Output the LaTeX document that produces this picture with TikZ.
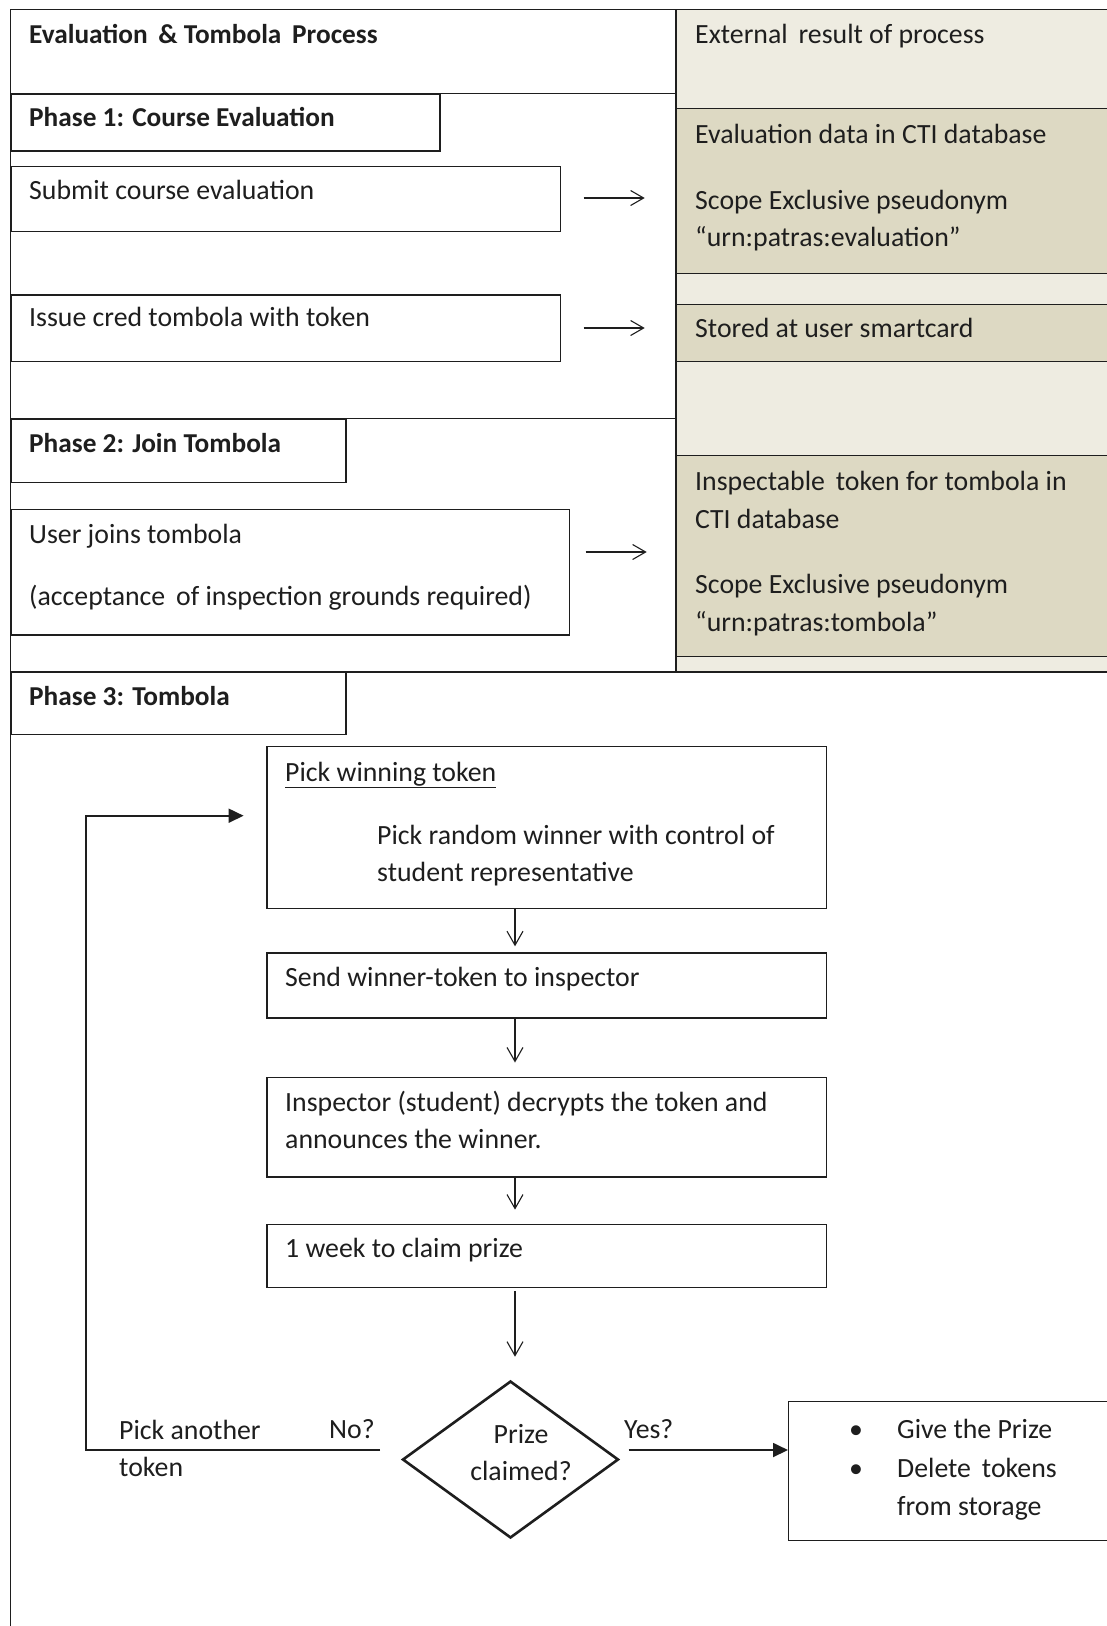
\documentclass[tikz,border=0pt]{standalone}
\usepackage{fontspec}
\setmainfont{Carlito}
\usetikzlibrary{arrows.meta,shapes.geometric}
\definecolor{lightbg}{HTML}{EEECE1}
\definecolor{darkbg}{HTML}{DDD9C3}
\definecolor{ink}{HTML}{1E1E1E}
\begin{document}
\begin{tikzpicture}[x=1pt,y=-1pt,
  every node/.style={font=\fontsize{27.8}{33}\selectfont, text=ink},
  frameline/.style={draw=ink, line width=1.3pt},
  box/.style={draw=ink, line width=1.3pt, rectangle, anchor=north west, inner sep=0pt},
  resbox/.style={box, fill=darkbg},
  txt/.style={anchor=base west, inner sep=0pt},
  btxt/.style={txt, font=\fontsize{27.3}{33}\selectfont\bfseries},
  thinarrow/.style={draw=ink, line width=1.1pt, -{Straight Barb[length=13pt,width=15pt,line width=1.1pt]}},
  flowarrow/.style={draw=ink, line width=1.1pt, -{Straight Barb[length=14pt,width=16pt,line width=1.1pt]}},
  backarrow/.style={draw=ink, line width=1.8pt, -{Triangle[length=15pt,width=14pt]}},
  decision/.style={diamond, draw=ink, line width=2.6pt, inner sep=0pt, minimum width=216pt, minimum height=157pt}
]
\useasboundingbox (0,0) rectangle (1107,1626);
\fill[white] (0,0) rectangle (1107,1626);

% right column background
\fill[lightbg] (676,9.3) rectangle (1107,672);

% result boxes
\node[resbox, minimum width=450pt, minimum height=165pt] (res1) at (676,108) {};
\node[resbox, minimum width=450pt, minimum height=57pt] (res2) at (676,304) {};
\node[resbox, minimum width=450pt, minimum height=201pt] (res3) at (676,455) {};

% frame lines
\draw[frameline] (10.4,9.3) -- (1120,9.3);
\draw[frameline] (10.4,9.3) -- (10.4,1630);
\draw[frameline] (676,9.3) -- (676,672);
\draw[frameline] (10.4,93.3) -- (676,93.3);
\draw[frameline] (10.4,418.7) -- (676,418.7);
\draw[frameline] (10.4,672) -- (1120,672);

% left boxes
\node[box, minimum width=429pt, minimum height=57pt] (ph1) at (10.4,93.3) {};
\node[box, minimum width=549.3pt, minimum height=65.3pt] (submit) at (10.4,165.8) {};
\node[box, minimum width=549.3pt, minimum height=66.3pt] (issue) at (10.4,294.4) {};
\node[box, minimum width=334.8pt, minimum height=63.3pt] (ph2) at (10.4,418.7) {};
\node[box, minimum width=558.6pt, minimum height=125.4pt] (join) at (10.4,508.9) {};
\node[box, minimum width=334.8pt, minimum height=62pt] (ph3) at (10.4,672) {};

% texts upper section
\node[btxt] (ttitle) at (29,43.7) {Evaluation \,\& Tombola \,Process};
\node[txt] (text) at (695,43.5) {External \,result of process};
\node[btxt] (tph1) at (29,126.7) {Phase 1: Course Evaluation};
\node[txt] (tr1a) at (695,143.5) {Evaluation data in CTI database};
\node[txt] (tsub) at (29,199.2) {Submit course evaluation};
\node[txt] (tr1b) at (695,209.5) {Scope Exclusive pseudonym};
\node[txt] (tr1c) at (695,246.5) {“urn:patras:evaluation”};
\node[txt] (tiss) at (29,326.7) {Issue cred tombola with token};
\node[txt] (tr2) at (695,337.5) {Stored at user smartcard};
\node[btxt] (tph2) at (29,452.1) {Phase 2: Join Tombola};
\node[txt] (tr3a) at (695,490.5) {Inspectable \,token for tombola in};
\node[txt] (tr3b) at (695,528.5) {CTI database};
\node[txt] (tjoin1) at (29,543.3) {User joins tombola};
\node[txt] (tr3c) at (695,593.5) {Scope Exclusive pseudonym};
\node[txt] (tjoin2) at (29,605.5) {(acceptance \,of inspection grounds required)};
\node[txt] (tr3d) at (695,631.5) {“urn:patras:tombola”};
\node[btxt] (tph3) at (29,705) {Phase 3: Tombola};

% upper arrows
\coordinate (a1s) at (583.6,198);
\coordinate (a1e) at (644.7,198);
\coordinate (a2s) at (583.6,328);
\coordinate (a2e) at (644.7,328);
\coordinate (a3s) at (585.6,552);
\coordinate (a3e) at (646.7,552);
\draw[thinarrow] (a1s) -- (a1e);
\draw[thinarrow] (a2s) -- (a2e);
\draw[thinarrow] (a3s) -- (a3e);

% phase 3 flow boxes
\node[box, minimum width=559.6pt, minimum height=162pt] (pick) at (266.4,745.5) {};
\node[box, minimum width=559.6pt, minimum height=65pt] (send) at (266.4,952.3) {};
\node[box, minimum width=559.6pt, minimum height=99.4pt] (insp) at (266.4,1077) {};
\node[box, minimum width=559.6pt, minimum height=63pt] (week) at (266.4,1224) {};
\node[decision] (dia) at (510.5,1459.5) {};
\node[box, minimum width=340pt, minimum height=139pt] (final) at (788,1401) {};

\node[txt] (tpick) at (285,781.2) {\underline{Pick winning token}};
\node[txt] (tpick2) at (377,844.5) {Pick random winner with control of};
\node[txt] (tpick3) at (377,881.5) {student representative};
\node[txt] (tsend) at (285,986.5) {Send winner-token to inspector};
\node[txt] (tinsp1) at (285,1111.3) {Inspector (student) decrypts the token and};
\node[txt] (tinsp2) at (285,1148.7) {announces the winner.};
\node[txt] (tweek) at (285,1257.5) {1 week to claim prize};
\node[anchor=base, inner sep=0pt] (tprize) at (521,1443.5) {Prize};
\node[anchor=base, inner sep=0pt] (tclaim) at (521,1480.5) {claimed?};
\node[txt] (tanother) at (119,1439) {Pick another};
\node[txt] (ttoken) at (119,1476.5) {token};
\node[txt] (tno) at (329,1438.5) {No?};
\node[txt] (tyes) at (624,1438.5) {Yes?};
\node[anchor=base, inner sep=0pt] (b1) at (856,1438.5) {•};
\node[anchor=base, inner sep=0pt] (b2) at (856,1477.5) {•};
\node[txt] (tgive) at (897,1438.5) {Give the Prize};
\node[txt] (tdel) at (897,1477.5) {Delete \,tokens};
\node[txt] (tfrom) at (897,1515.5) {from storage};

% flow arrows
\coordinate (ax) at (515,0);
\draw[flowarrow, shorten >=6pt] (ax |- pick.south) -- (ax |- send.north);
\draw[flowarrow, shorten >=14.5pt] (ax |- send.south) -- (ax |- insp.north);
\draw[flowarrow, shorten >=14.4pt] (ax |- insp.south) -- (ax |- week.north);
\draw[flowarrow, shorten <=3pt, shorten >=23pt] (ax |- week.south) -- (ax |- dia.north);

% loop back and yes arrows
\coordinate (noS) at (380,1450);
\coordinate (bendA) at (86,1450);
\coordinate (bendB) at (86,815.7);
\draw[backarrow, shorten >=22.8pt] (noS) -- (bendA) -- (bendB) -- (bendB -| pick.west);
\coordinate (yesS) at (628.5,1450);
\draw[backarrow] (yesS) -- (yesS -| final.west);
\end{tikzpicture}
\end{document}
